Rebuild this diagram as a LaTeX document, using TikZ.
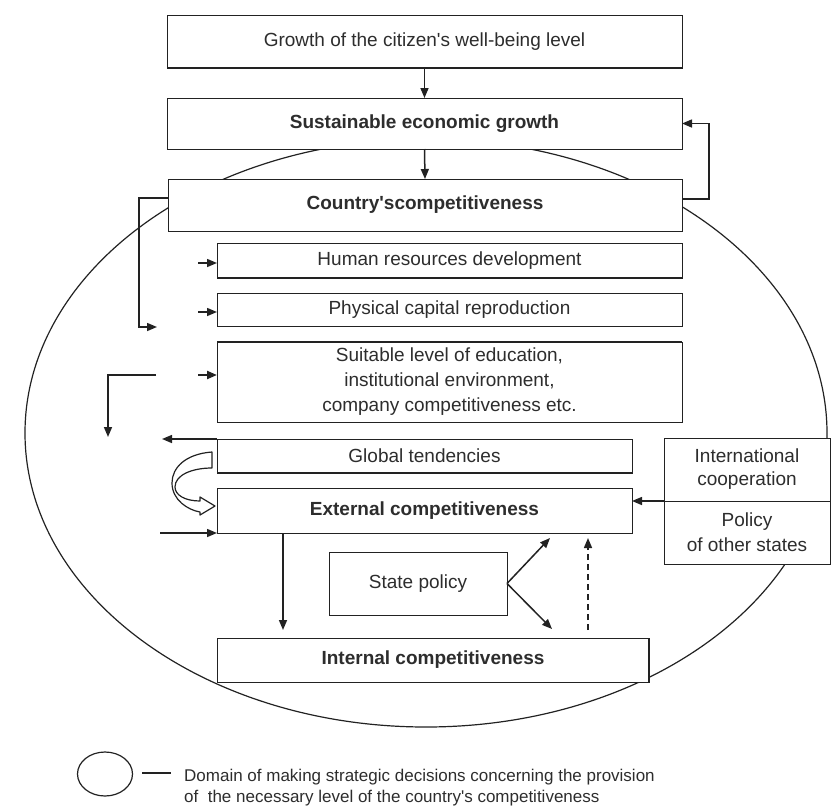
\documentclass[tikz,border=0pt]{standalone}
\usepackage{fontspec}
\setmainfont{Liberation Sans}[Ligatures=TeXOff]
\usetikzlibrary{arrows.meta}
\definecolor{ink}{RGB}{34,34,34}
\definecolor{txt}{RGB}{45,45,45}
\begin{document}
\begin{tikzpicture}[x=1pt,y=-1pt,
  box/.style={draw=ink, fill=white, line width=1pt, inner sep=0pt, outer sep=0pt,
    align=center, text=txt, font=\fontsize{19}{25}\selectfont},
  bbox/.style={box, font=\fontsize{19}{25}\selectfont\bfseries},
  arr/.style={draw=ink, line width=1.5pt, -{Triangle[length=10pt,width=8pt]}},
  heavyedge/.style={draw=ink, line width=2.6pt},
  domline/.style={draw=ink, line width=1.2pt}]
\useasboundingbox (0,0) rectangle (831,807);
% big domain ellipse
\draw[domline] (426,433) ellipse [x radius=401, y radius=294];
% boxes
\node[box, minimum width=515, minimum height=53] (grow) at (424.5,41.5) {Growth of the citizen's well-being level};
\node[bbox, minimum width=515, minimum height=51] (sust) at (424.5,123.5) {Sustainable economic growth};
\node[bbox, minimum width=514, minimum height=52] (ctry) at (425,205) {Country'scompetitiveness};
\node[box, minimum width=465, minimum height=35] (hum) at (449.5,260.5) {Human resources development};
\node[box, minimum width=465, minimum height=33] (phys) at (449.5,309.5) {Physical capital reproduction};
\node[box, minimum width=465, minimum height=80] (suit) at (449.5,382) {Suitable level of education,\\institutional environment,\\company competitiveness etc.};
\node[box, minimum width=415, minimum height=34] (glob) at (424.5,456) {Global tendencies};
\node[bbox, minimum width=415, minimum height=45] (ext) at (424.5,510.5) {External competitiveness};
\node[box, minimum width=166, minimum height=63, font=\fontsize{19}{23}\selectfont] (intl) at (747,469.5) {International\\cooperation};
\node[box, minimum width=166, minimum height=63] (pol) at (747,532.5) {Policy\\of other states};
\node[box, minimum width=178, minimum height=63] (state) at (418,583.5) {State policy};
\node[bbox, minimum width=432, minimum height=44] (int) at (433,660) {Internal competitiveness};
% heavy edges
\draw[heavyedge] (grow.south west) -- (grow.south east);
\draw[heavyedge] (hum.south west) -- (hum.south east);
\draw[heavyedge] (suit.north west) -- (suit.north east);
\draw[heavyedge] (glob.south west) -- (glob.south east);
\draw[heavyedge] (int.north east) -- (int.south east);
% free ends
\coordinate (b1) at (157,327);
\coordinate (c1) at (156,375);
\coordinate (c2) at (108,437);
\coordinate (c3) at (162,439);
\coordinate (c5) at (160,533);
\coordinate (c4) at (283,630);
\coordinate (s1) at (550,538);
\coordinate (s2) at (552,629);
\coordinate (d1) at (588,630);
\coordinate (d2) at (588,538);
% connectors
\draw[arr] (grow.south) -- (sust.north);
\draw[arr] (sust.south) -- (ctry.north);
\draw[arr] ([yshift=6pt]ctry.east) -- ++(27,0) |- (sust.east);
\draw[arr] ([yshift=7pt]ctry.west) -- ++(-29,0) |- (b1);
\draw[arr] ([xshift=-19pt,yshift=-2.5pt]hum.west) -- ([yshift=-2.5pt]hum.west);
\draw[arr] ([xshift=-19pt,yshift=-2.5pt]phys.west) -- ([yshift=-2.5pt]phys.west);
\draw[arr, line width=2.2pt] ([xshift=-19pt,yshift=7pt]suit.west) -- ([yshift=7pt]suit.west);
\draw[arr] (c1) -| (c2);
\draw[arr] (glob.north west) -- (c3);
\draw[arr] (c5) -- (ext.south west);
\draw[arr] (intl.south west) -- (intl.south west -| ext.east);
\draw[arr] (ext.south west -| c4) -- (c4);
\draw[arr] (state.east) -- (s1);
\draw[arr] (state.east) -- (s2);
\draw[arr, dashed, dash pattern=on 6pt off 4pt] (d1) -- (d2);
% hollow curved arrow
\draw[ink, line width=1.2pt, fill=white, line join=round]
  (212,452) .. controls (185,454) and (172,468) .. (172,483)
  .. controls (172,500) and (188,510) .. (200,512)
  -- (200,515) -- (215,506) -- (200,497) -- (200,501)
  .. controls (185,501) and (175,495) .. (175,487)
  .. controls (175,475) and (192,468) .. (212,468) -- cycle;
% legend
\draw[domline] (105,774) ellipse [x radius=27.5, y radius=22];
\coordinate (l1) at (142,773);
\coordinate (l2) at (171,773);
\draw[ink, line width=1.4pt] (l1) -- (l2);
\node[anchor=west, align=left, inner sep=0pt, text=txt, font=\fontsize{17}{21}\selectfont] (leg) at (184,788)
  {Domain of making strategic decisions concerning the provision\\of\ \ the necessary level of the country's competitiveness};
\end{tikzpicture}
\end{document}
